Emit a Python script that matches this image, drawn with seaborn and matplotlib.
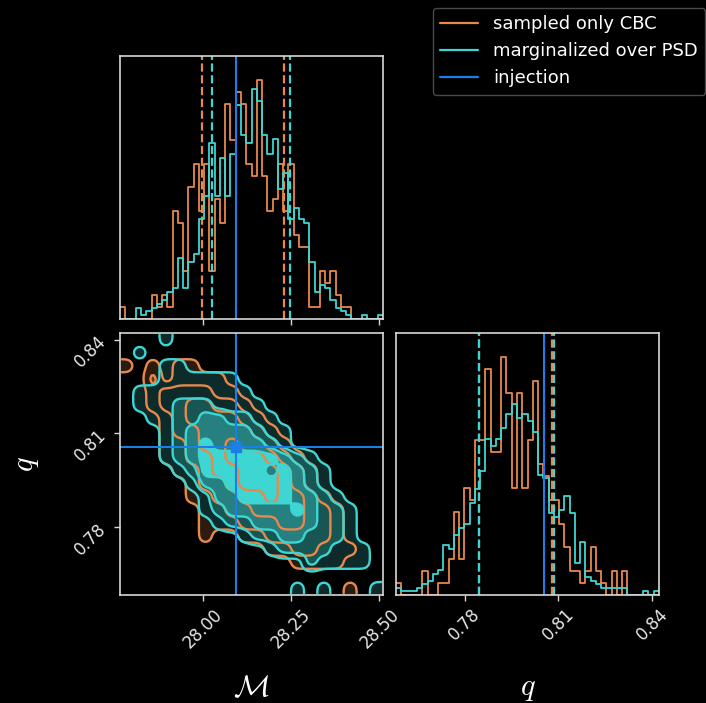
import numpy as np
import pandas as pd
import matplotlib
matplotlib.use("Agg")
import matplotlib.pyplot as plt
import seaborn as sns
from matplotlib.colors import to_rgb
from matplotlib.lines import Line2D

# ---------------------------------------------------------------- data
LABELS = ["sampled only CBC", "marginalized over PSD", "injection"]
COLORS = ["#E8894B", "#3DD6D3", "#1A7FE8"]

M_RANGE = (27.766, 28.510)
Q_RANGE = (0.7581, 0.8421)
N_BINS = 50

M_TICKS = [28.00, 28.25, 28.50]
Q_TICKS = [0.78, 0.81, 0.84]
M_TICK_LABELS = ["28.00", "28.25", "28.50"]
Q_TICK_LABELS = ["0.78", "0.81", "0.84"]

# chirp-mass histogram counts (50 bins over M_RANGE)
M_COUNTS_CBC = [1, 0, 0, 0, 0, 0, 2, 1, 2, 1,
                9, 8, 4, 11, 13, 9, 13, 4, 10, 8,
                18, 15, 19, 18, 13, 12, 20, 12, 9, 10,
                13, 9, 13, 7, 6, 6, 1, 1, 4, 3,
                4, 2, 1, 1, 0, 0, 0, 0, 0, 0]
M_COUNTS_PSD = [0, 0, 0, 3, 1, 2, 3, 4, 5, 7,
                8, 16, 8, 15, 17, 26, 32, 46, 32, 42,
                32, 43, 56, 48, 46, 60, 57, 48, 43, 47,
                34, 38, 26, 29, 26, 25, 15, 7, 9, 8,
                5, 3, 2, 1, 0, 0, 1, 0, 0, 1]

# mass-ratio histogram counts (50 bins over Q_RANGE)
Q_COUNTS_CBC = [1, 0, 0, 0, 0, 2, 0, 0, 1, 1,
                3, 7, 3, 9, 8, 13, 13, 19, 12, 12,
                20, 17, 9, 17, 9, 13, 18, 11, 10, 8,
                8, 6, 4, 2, 2, 1, 2, 4, 2, 1,
                0, 2, 0, 2, 0, 0, 0, 0, 0, 0]
Q_COUNTS_PSD = [2, 1, 1, 1, 2, 3, 4, 6, 7, 14,
                13, 17, 19, 20, 26, 30, 35, 44, 42, 44,
                47, 51, 54, 50, 51, 49, 46, 34, 33, 23,
                22, 24, 28, 23, 9, 15, 5, 4, 3, 2,
                2, 2, 2, 2, 0, 0, 0, 1, 0, 1]

# 16% / 84% quantiles
M_QUANT_CBC = [27.998, 28.230]
M_QUANT_PSD = [28.026, 28.246]
Q_QUANT_CBC = [0.7845, 0.8079]
Q_QUANT_PSD = [0.7845, 0.8087]

M_INJ = 28.095
Q_INJ = 0.8055

# credible-level maps of the joint posterior (rows: high q -> low q,
# columns: low M -> high M); digit = number of enclosing contour levels
LEVELS_CBC = [
    "00000000000000000000",
    "00000000000000000000",
    "10101100000000000000",
    "00201111000000000000",
    "00122221100000000000",
    "00122332210000000000",
    "00012333321000000000",
    "00012233332100000000",
    "00011233433210000000",
    "00011223444321000000",
    "00001123344432100000",
    "00000122344432100000",
    "00000112233433210000",
    "00000011223333221000",
    "00000011122233221000",
    "00000010011222221000",
    "00000000000112211100",
    "00000000000001111000",
    "00000000000000000000",
    "00000000000000000100",
]
LEVELS_PSD = [
    "00010000000000000000",
    "01000000000000000000",
    "00011000000000000000",
    "00011111100000000000",
    "01111111110000000000",
    "01112221111000000000",
    "00112233221100000000",
    "00012333332110000000",
    "00012343333210000000",
    "00012344444432100000",
    "00001244444343210000",
    "00000133444443210000",
    "00000013344443321000",
    "00000012333334322100",
    "00000001223333322100",
    "00000000012233222100",
    "00000000000122221110",
    "00000000000000211110",
    "00000000000000000000",
    "00000000000001010001",
]

# ---------------------------------------------------------------- style
sns.set_theme(style="ticks", rc={
    "figure.facecolor": "black",
    "axes.facecolor": "black",
    "savefig.facecolor": "black",
    "axes.edgecolor": "#d8d8d8",
    "axes.linewidth": 1.2,
    "axes.labelcolor": "white",
    "text.color": "white",
    "xtick.color": "#d8d8d8",
    "ytick.color": "#d8d8d8",
    "xtick.labelcolor": "#e6e6e6",
    "ytick.labelcolor": "#e6e6e6",
    "xtick.major.size": 4,
    "ytick.major.size": 4,
    "xtick.major.width": 1.0,
    "ytick.major.width": 1.0,
})
plt.rcParams["font.family"] = ["DejaVu Sans"]
plt.rcParams["mathtext.fontset"] = "cm"

W, H = 706, 703
fig = plt.figure(figsize=(W / 100, H / 100), dpi=100)


def px_axes(x0, y0, x1, y1):
    return fig.add_axes([x0 / W, 1 - y1 / H, (x1 - x0) / W, (y1 - y0) / H])


ax_m = px_axes(120, 56, 383, 319)
ax_2d = px_axes(120, 333, 383, 595)
ax_q = px_axes(396, 333, 659, 595)

m_edges = np.linspace(*M_RANGE, N_BINS + 1)
q_edges = np.linspace(*Q_RANGE, N_BINS + 1)
m_centers = 0.5 * (m_edges[1:] + m_edges[:-1])
q_centers = 0.5 * (q_edges[1:] + q_edges[:-1])


def marginal(ax, centers, edges, counts_list, quants_list, inj, rng, ticks):
    peak = 0
    for counts, quants, color in zip(counts_list, quants_list, COLORS[:2]):
        df = pd.DataFrame({"value": centers, "count": np.asarray(counts, float)})
        sns.histplot(data=df, x="value", weights="count", bins=N_BINS,
                     binrange=rng, stat="density", element="step",
                     fill=False, color=color, linewidth=1.3, ax=ax)
        c = df["count"].to_numpy()
        peak = max(peak, (c / c.sum() / np.diff(edges)).max())
        for qv in quants:
            ax.axvline(qv, color=color, ls="--", lw=1.6)
    ax.axvline(inj, color=COLORS[2], lw=1.5)
    ax.set_xlim(*rng)
    ax.set_ylim(0, 1.1 * peak)
    ax.set_yticks([])
    ax.set_ylabel("")
    ax.set_xlabel("")
    ax.set_xticks(ticks)
    for s in ax.spines.values():
        s.set_visible(True)


marginal(ax_m, m_centers, m_edges, [M_COUNTS_CBC, M_COUNTS_PSD],
         [M_QUANT_CBC, M_QUANT_PSD], M_INJ, M_RANGE, M_TICKS)
ax_m.set_xticklabels([])

marginal(ax_q, q_centers, q_edges, [Q_COUNTS_CBC, Q_COUNTS_PSD],
         [Q_QUANT_CBC, Q_QUANT_PSD], Q_INJ, Q_RANGE, Q_TICKS)
ax_q.set_xticklabels(Q_TICK_LABELS, rotation=45, fontsize=12)
ax_q.set_xlabel(r"$q$", fontsize=22)
ax_q.xaxis.set_label_coords(0.5, -0.3)


# ---------------------------------------------------------------- 2D panel
def level_field(rows, up=6, sigma=2.0):
    grid = np.array([[int(ch) for ch in r] for r in rows], float)[::-1]
    g = np.kron(grid, np.ones((up, up)))
    r = int(np.ceil(3 * sigma))
    k = np.exp(-0.5 * (np.arange(-r, r + 1) / sigma) ** 2)
    k /= k.sum()
    g = np.pad(g, r, mode="edge")
    g = np.apply_along_axis(lambda v: np.convolve(v, k, mode="valid"), 0, g)
    g = np.apply_along_axis(lambda v: np.convolve(v, k, mode="valid"), 1, g)
    ny, nx = g.shape
    xs = M_RANGE[0] + (np.arange(nx) + 0.5) * (M_RANGE[1] - M_RANGE[0]) / nx
    ys = Q_RANGE[0] + (np.arange(ny) + 0.5) * (Q_RANGE[1] - Q_RANGE[0]) / ny
    return xs, ys, g


fill_levels = [0.5, 1.5, 2.5, 3.5, 10]
line_levels = [0.5, 1.5, 2.5, 3.5]
shades = [0.2, 0.4, 0.6, 1.0]   # colour strength of each credible band

fields = [level_field(LEVELS_CBC), level_field(LEVELS_PSD)]
for (xs, ys, g), color in zip(fields, COLORS[:2]):
    rgb = np.array(to_rgb(color))
    ax_2d.contourf(xs, ys, g, levels=fill_levels,
                   colors=[tuple(rgb * s) for s in shades])
for (xs, ys, g), color in zip(fields, COLORS[:2]):
    ax_2d.contour(xs, ys, g, levels=line_levels, colors=[color],
                  linewidths=1.7)

ax_2d.axvline(M_INJ, color=COLORS[2], lw=1.5)
ax_2d.axhline(Q_INJ, color=COLORS[2], lw=1.5)
ax_2d.plot([M_INJ], [Q_INJ], marker="s", ms=7, color=COLORS[2])
ax_2d.set_xlim(*M_RANGE)
ax_2d.set_ylim(*Q_RANGE)
ax_2d.set_xticks(M_TICKS)
ax_2d.set_xticklabels(M_TICK_LABELS, rotation=45, fontsize=12)
ax_2d.set_yticks(Q_TICKS)
ax_2d.set_yticklabels(Q_TICK_LABELS, rotation=45, fontsize=12)
ax_2d.set_xlabel(r"$\mathcal{M}$", fontsize=22)
ax_2d.set_ylabel(r"$q$", fontsize=22)
ax_2d.xaxis.set_label_coords(0.5, -0.3)
ax_2d.yaxis.set_label_coords(-0.3, 0.5)

handles = [Line2D([], [], color=c, lw=1.6) for c in COLORS]
leg = fig.legend(handles, LABELS, loc="upper right",
                 bbox_to_anchor=(1.004, 0.9936), borderaxespad=0.2,
                 fontsize=13, facecolor="black", edgecolor="#4a4a4a",
                 framealpha=1.0, labelcolor="white", handlelength=2.1,
                 handletextpad=0.85)

fig.savefig("out.png", dpi=100, facecolor="black")
